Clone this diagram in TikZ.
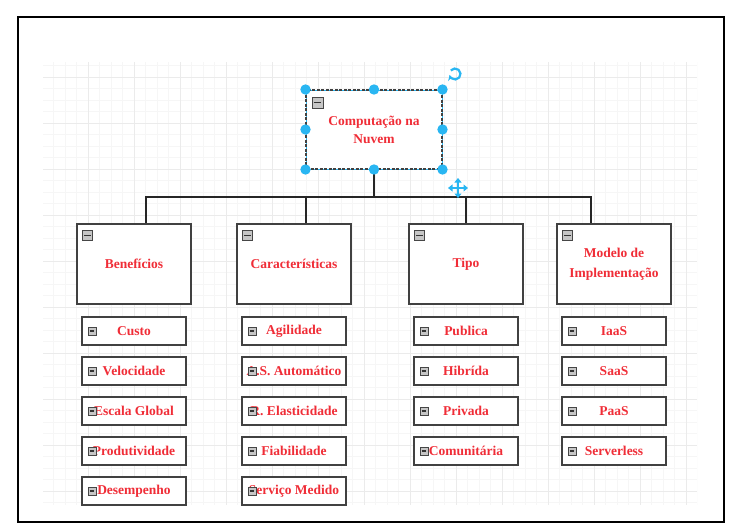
\documentclass[tikz,border=0pt]{standalone}
\usepackage{fontspec}
\setmainfont{Liberation Serif}
\usepackage{xcolor}
\usetikzlibrary{arrows.meta}

\definecolor{nred}{RGB}{240,45,55}
\definecolor{boxgray}{RGB}{65,65,65}
\definecolor{selblue}{RGB}{41,182,242}

\tikzset{
  tog/.style={draw=gray!55!black, fill=gray!45, line width=0.8pt, minimum size=8pt, inner sep=0pt,
    path picture={\draw[black!80, line width=1.6pt] ([xshift=1.6pt]path picture bounding box.west) -- ([xshift=-1.6pt]path picture bounding box.east);}},
  topic/.style={draw=boxgray, line width=1.6pt, fill=white, minimum width=114pt, minimum height=80pt,
    inner sep=0pt, align=center, text=nred, font=\fontsize{13.5}{20}\selectfont\bfseries,
    label={[tog, minimum size=9.5pt, anchor=north west, xshift=6pt, yshift=-7pt]north west:}},
  leaf/.style={draw=boxgray, line width=1.9pt, fill=white, minimum width=104pt, minimum height=28pt,
    inner sep=0pt, text=nred, font=\fontsize{13.5}{16}\selectfont\bfseries,
    label={[tog, anchor=west, xshift=6.5pt]west:}},
  conn/.style={draw=black!85, line width=1.3pt},
  gridminor/.style={draw=gray!7, line width=0.6pt},
  gridmajor/.style={draw=gray!16, line width=0.8pt},
}

\begin{document}
\begin{tikzpicture}[x=1pt, y=-1pt]
\useasboundingbox (0,0) rectangle (745,530);
\fill[white] (0,0) rectangle (745,530);

% canvas grid
\begin{scope}
\clip (43,62) rectangle (697,505);
\foreach \i in {0,...,57} \draw[gridminor] ({42+11.5*\i},62) -- ++(0,443);
\foreach \j in {0,...,39} \draw[gridminor] (43,{54+11.5*\j}) -- ++(654,0);
\foreach \i in {0,4,...,56} \draw[gridmajor] ({42+11.5*\i},62) -- ++(0,443);
\foreach \j in {2,6,...,38} \draw[gridmajor] (43,{54+11.5*\j}) -- ++(654,0);
\end{scope}
\draw[line width=1.2pt] (18,17) rectangle (724,522);

% main topic
\node[draw=selblue, line width=1pt, fill=white, minimum width=136pt, minimum height=79pt, inner sep=0pt,
  align=center, text=nred, font=\fontsize{13.5}{18}\selectfont\bfseries,
  postaction={draw=boxgray, line width=1.2pt, dash pattern=on 3pt off 1.5pt},
  label={[tog, minimum size=11pt, anchor=north west, xshift=6pt, yshift=-7pt]north west:}]
  (cloud) at (374, 129.5) {Computação na\\Nuvem};

% topics
\node[topic] (ben) at (134, 264) {Benefícios};
\node[topic] (car) at (294, 264) {Características};
\node[topic] (tip) at (466, 264) {Tipo};
\node[topic] (mod) at (614, 264) {Modelo de\\Implementação};

% leaves
\node[leaf] (b1) at (134, 331) {Custo};
\node[leaf] (b2) at (134, 371) {Velocidade};
\node[leaf] (b3) at (134, 411) {Escala Global};
\node[leaf] (b4) at (134, 451) {Produtividade};
\node[leaf] (b5) at (134, 491) {Desempenho};
\node[leaf] (c1) at (294, 331) {Agilidade};
\node[leaf] (c2) at (294, 371) {A.S. Automático};
\node[leaf] (c3) at (294, 411) {R. Elasticidade};
\node[leaf] (c4) at (294, 451) {Fiabilidade};
\node[leaf] (c5) at (294, 491) {Serviço Medido};
\node[leaf] (t1) at (466, 331) {Publica};
\node[leaf] (t2) at (466, 371) {Hibrída};
\node[leaf] (t3) at (466, 411) {Privada};
\node[leaf] (t4) at (466, 451) {Comunitária};
\node[leaf] (m1) at (614, 331) {IaaS};
\node[leaf] (m2) at (614, 371) {SaaS};
\node[leaf] (m3) at (614, 411) {PaaS};
\node[leaf] (m4) at (614, 451) {Serverless};

% links
\coordinate (bus) at (374, 197);
\draw[conn] (cloud) -- (bus);
\draw[conn] ([xshift=12pt]ben.north) |- (bus) -| ([xshift=-23pt]mod.north);
\draw[conn] ([xshift=12pt]car.north) |- (bus);
\draw[conn] (tip.north) |- (bus);

% selection handles
\foreach \a in {north west, north, north east, west, east, south west, south, south east}
  \fill[selblue] (cloud.\a) circle (5.2pt);
\coordinate (rot) at (455, 74);
\draw[selblue, line width=2.2pt, -{Stealth[length=5pt, width=6pt]}]
  ([shift={(140:5.5pt)}]rot) arc[start angle=140, end angle=-165, radius=5.5pt];
\coordinate (mv) at (458, 188);
\draw[selblue, line width=1.8pt, {Triangle[length=4.5pt, width=7pt]}-{Triangle[length=4.5pt, width=7pt]}]
  ([xshift=-10pt]mv) -- ([xshift=10pt]mv);
\draw[selblue, line width=1.8pt, {Triangle[length=4.5pt, width=7pt]}-{Triangle[length=4.5pt, width=7pt]}]
  ([yshift=-10pt]mv) -- ([yshift=10pt]mv);
\end{tikzpicture}
\end{document}
